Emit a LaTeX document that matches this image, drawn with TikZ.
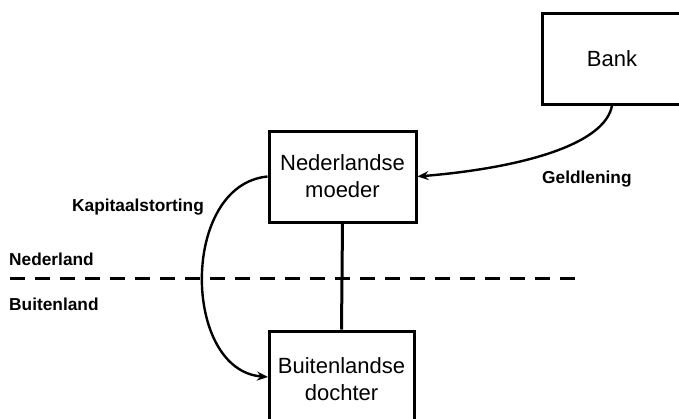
\documentclass[tikz,border=0pt]{standalone}
\usepackage{fontspec}
\setmainfont{Liberation Sans}
\usetikzlibrary{arrows.meta}
\begin{document}
\begin{tikzpicture}[x=1pt,y=-1pt,
  box/.style={draw=black,line width=3pt,fill=white,align=center,inner sep=0pt,
    font=\fontsize{22}{27}\selectfont},
  lbl/.style={font=\fontsize{17.3}{20}\selectfont\bfseries,anchor=west,inner sep=0pt},
  conn/.style={line width=2.4pt,-{Stealth[length=11pt,width=9pt]}}]
\useasboundingbox (0,0) rectangle (679,418);
\clip (0,0) rectangle (679,418);
\fill[white] (0,0) rectangle (679,418);
\node[box,minimum width=140pt,minimum height=91pt] (bank) at (612,58.5) {Bank};
\node[box,minimum width=147pt,minimum height=91pt] (moeder) at (342.5,176.5) {Nederlandse\\moeder};
\node[box,minimum width=145pt,minimum height=96pt] (dochter) at (341.5,379) {Buitenlandse\\dochter};
\draw[line width=3pt] (moeder.south) -- (dochter.north);
\coordinate (dl) at (268,377);
\draw[conn] (bank.south) .. controls (605,145) and (520,168) .. (moeder.east);
\draw[conn] (moeder.west) .. controls (180,185) and (182,370) .. (dl);
\draw[line width=3pt,dash pattern=on 15pt off 10pt] (10,278) -- (577,278);
\node[lbl] (gl) at (542,179) {Geldlening};
\node[lbl] (ks) at (72,207) {Kapitaalstorting};
\node[lbl] (nl) at (9,259) {Nederland};
\node[lbl] (bl) at (9,304) {Buitenland};
\end{tikzpicture}
\end{document}
